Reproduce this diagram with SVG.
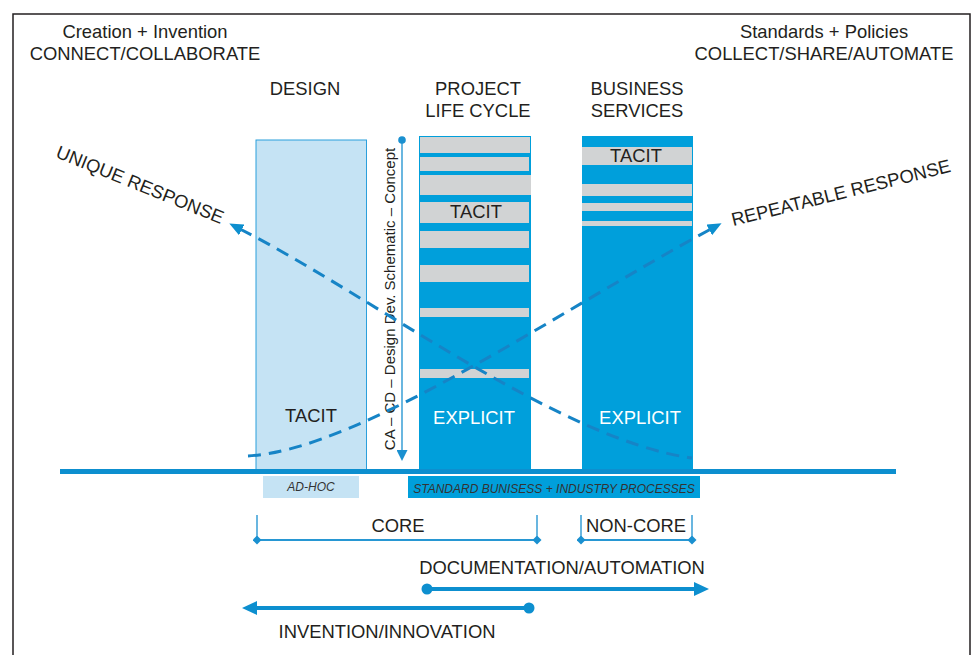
<svg xmlns="http://www.w3.org/2000/svg" width="973" height="655" viewBox="0 0 973 655">
<style>
text{font-family:"Liberation Sans",Arial,sans-serif;fill:#231f20;}
.t18{font-size:18.4px;}
.mid{text-anchor:middle;}
.wht{fill:#ffffff;}
.sm{font-size:12px;font-style:italic;fill:#333333;}
.col{fill:#009fdb;}
.bar{fill:#d1d3d4;}
.dash{fill:none;stroke:#1684c6;stroke-width:3;stroke-dasharray:13 8;}
.thin{fill:none;stroke:#1a90d0;stroke-width:1.3;}
.thick{fill:none;stroke:#0d8fcf;stroke-width:4;}
</style>
<defs>
<marker id="dArrow" markerUnits="userSpaceOnUse" markerWidth="14" markerHeight="12" viewBox="0 0 14 12" refX="2" refY="6" orient="auto-start-reverse">
<path d="M0,0 L14,6 L0,12 Z" fill="#0d8fcf"/>
</marker>
<marker id="hArrow" markerUnits="userSpaceOnUse" markerWidth="15" markerHeight="14" viewBox="0 0 15 14" refX="2" refY="7" orient="auto-start-reverse">
<path d="M0,0 L15,7 L0,14 Z" fill="#0d8fcf"/>
</marker>
<marker id="vArrow" markerUnits="userSpaceOnUse" markerWidth="11" markerHeight="11" viewBox="0 0 11 11" refX="1" refY="5.5" orient="auto">
<path d="M0,0 L11,5.5 L0,11 Z" fill="#1a90d0"/>
</marker>
<marker id="dia" markerUnits="userSpaceOnUse" markerWidth="9" markerHeight="9" viewBox="0 0 9 9" refX="4.5" refY="4.5" orient="0">
<path d="M4.5,0 L9,4.5 L4.5,9 L0,4.5 Z" fill="#1a90d0"/>
</marker>
</defs>
<rect x="13" y="14" width="957" height="700" fill="#ffffff" stroke="#231f20" stroke-width="1.5"/>

<g id="headings">
<text class="t18 mid" x="145" y="38">Creation + Invention</text>
<text class="t18 mid" x="145" y="60">CONNECT/COLLABORATE</text>
<text class="t18 mid" x="824" y="38">Standards + Policies</text>
<text class="t18 mid" x="824" y="60">COLLECT/SHARE/AUTOMATE</text>
</g>

<g id="design">
<text class="t18 mid" x="305" y="95">DESIGN</text>
<rect x="256" y="140" width="110.5" height="330" fill="#c5e3f4" stroke="#2a9fdc" stroke-width="1"/>
<text class="t18 mid" x="311" y="422">TACIT</text>
</g>

<g id="project-life-cycle">
<text class="t18 mid" x="478" y="95">PROJECT</text>
<text class="t18 mid" x="478" y="117">LIFE CYCLE</text>
<rect class="col" x="419" y="136" width="112" height="334"/>
<rect class="bar" x="420" y="137" width="110" height="16"/>
<rect class="bar" x="420" y="157" width="109" height="14"/>
<rect class="bar" x="420" y="175" width="111" height="20"/>
<rect class="bar" x="420" y="202" width="109" height="21"/>
<rect class="bar" x="420" y="231" width="109" height="17"/>
<rect class="bar" x="420" y="265" width="109" height="17"/>
<rect class="bar" x="420" y="308" width="109" height="9"/>
<rect class="bar" x="420" y="369" width="109" height="9"/>
<text class="t18 mid" x="476" y="218">TACIT</text>
<text class="t18 mid wht" x="474" y="424">EXPLICIT</text>
</g>

<g id="business-services">
<text class="t18 mid" x="637" y="95">BUSINESS</text>
<text class="t18 mid" x="637" y="117">SERVICES</text>
<rect class="col" x="582" y="136" width="111" height="334"/>
<rect class="bar" x="582" y="147" width="110" height="18"/>
<rect class="bar" x="582" y="184" width="110" height="12"/>
<rect class="bar" x="582" y="203" width="110" height="8"/>
<rect class="bar" x="582" y="221" width="110" height="5"/>
<text class="t18 mid" x="636" y="162">TACIT</text>
<text class="t18 mid wht" x="640" y="424">EXPLICIT</text>
</g>

<g id="phase-axis">
<text style="font-size:15px" class="mid" x="395" y="299" transform="rotate(-90 395 299)">CA – CD – Design Dev. Schematic – Concept</text>
</g>

<g id="process-labels">
<rect x="263" y="476" width="96" height="22" fill="#c5e3f4"/>
<text class="sm mid" x="311" y="491">AD-HOC</text>
<rect x="408" y="476" width="292" height="22" fill="#009fdb"/>
<text class="sm mid" x="554" y="493">STANDARD BUNISESS + INDUSTRY PROCESSES</text>
</g>

<g id="response-labels">
<text class="t18 mid" x="140" y="191" transform="rotate(22 140 185)">UNIQUE RESPONSE</text>
<text class="t18 mid" x="841" y="199" transform="rotate(-14 841 193)">REPEATABLE RESPONSE</text>
</g>

<g id="scope-labels">
<text class="t18 mid" x="398" y="532">CORE</text>
<text class="t18 mid" x="636" y="532">NON-CORE</text>
<text class="t18 mid" x="562" y="574">DOCUMENTATION/AUTOMATION</text>
<text class="t18 mid" x="387" y="638">INVENTION/INNOVATION</text>
</g>

<g id="connectors">
<line x1="60" y1="471.5" x2="896" y2="471.5" stroke="#0d8fcf" stroke-width="5"/>
<line class="thin" x1="402" y1="140" x2="402" y2="451" marker-end="url(#vArrow)"/>
<circle cx="402" cy="140" r="3.8" fill="#1a90d0"/>
<path class="dash" d="M240,229 C370,295 560,440 692,458" marker-start="url(#dArrow)"/>
<path class="dash" d="M248,456 C360,450 560,310 711,229" marker-end="url(#dArrow)"/>
<path class="thin" d="M257,515 L257,540 L537,540 L537,515"/>
<path class="thin" d="M257,540 L537,540" marker-start="url(#dia)" marker-end="url(#dia)"/>
<path class="thin" d="M581,515 L581,540 L692,540 L692,515"/>
<path class="thin" d="M581,540 L692,540" marker-start="url(#dia)" marker-end="url(#dia)"/>
<line class="thick" x1="427" y1="589" x2="696" y2="589" marker-end="url(#hArrow)"/>
<circle cx="427" cy="589" r="5.5" fill="#0d8fcf"/>
<line class="thick" x1="529" y1="608" x2="255" y2="608" marker-end="url(#hArrow)"/>
<circle cx="529" cy="608" r="5.5" fill="#0d8fcf"/>
</g>
</svg>
